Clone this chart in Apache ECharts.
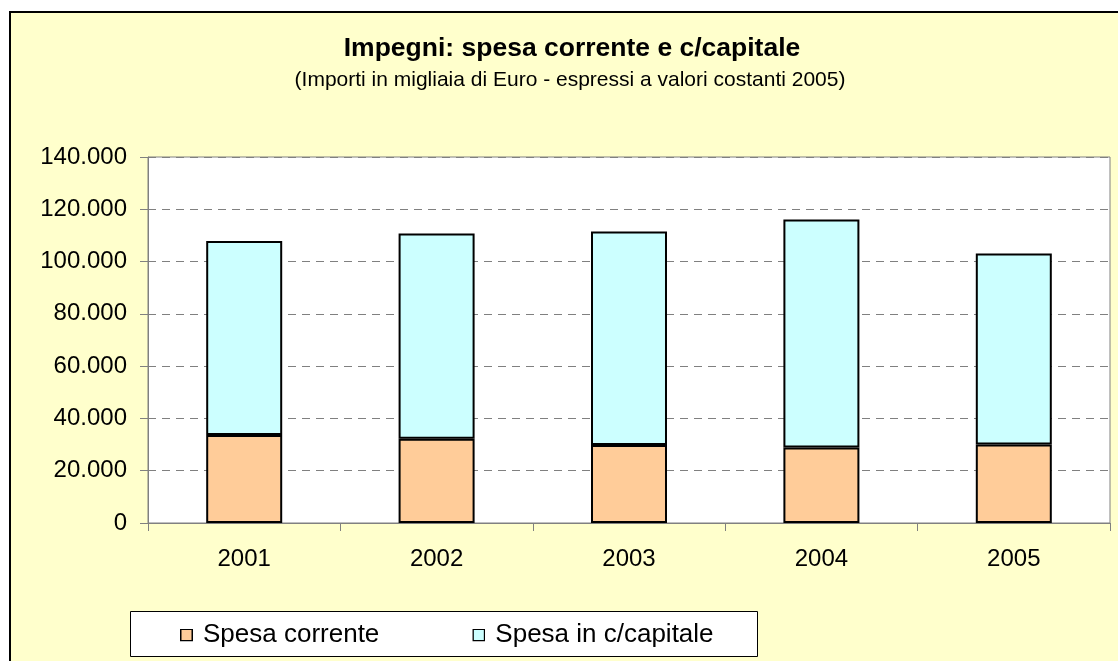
<!DOCTYPE html>
<html>
<head>
<meta charset="utf-8">
<script src="https://cdn.jsdelivr.net/npm/echarts@6/dist/echarts.min.js"></script>
<style>
html,body{margin:0;padding:0;background:#fff;width:1118px;height:661px;overflow:hidden;}
#bg{position:absolute;left:9px;top:11px;width:1200px;height:700px;background:#FFFFCC;border-left:2px solid #000;border-top:2px solid #000;}
#chart{position:absolute;left:0;top:0;width:1118px;height:661px;}
</style>
</head>
<body>
<div id="bg"></div>
<div id="chart"></div>
<script>
const categories = ['2001', '2002', '2003', '2004', '2005'];
const spesaCorrente = [33700, 32200, 29800, 28900, 30000];
const spesaCapitale = [74200, 78500, 81700, 87200, 73100];
const seriesNames = ['Spesa corrente', 'Spesa in c/capitale'];
const seriesColors = ['#FFCC99', '#CCFFFF'];
const titleText = 'Impegni: spesa corrente e c/capitale';
const subtitleText = '(Importi in migliaia di Euro - espressi a valori costanti 2005)';

const FONT = '"Liberation Sans", Arial, sans-serif';
const chart = echarts.init(document.getElementById('chart'), null, {renderer: 'canvas'});

function fmt(v) {
  return String(v).replace(/\B(?=(\d{3})+(?!\d))/g, '.');
}

function boxIcon(color) {
  const svg = "<svg xmlns='http://www.w3.org/2000/svg' width='13' height='13'>" +
    "<rect x='0.75' y='0.75' width='11.5' height='11.5' fill='" + color +
    "' stroke='#000' stroke-width='1.5'/></svg>";
  return 'image://data:image/svg+xml;charset=utf-8,' + encodeURIComponent(svg);
}

const option = {
  backgroundColor: 'transparent',
  animation: false,
  title: [
    {text: titleText, left: 572, top: 35, textAlign: 'center', padding: 0,
     textStyle: {fontFamily: FONT, fontSize: 26.5, fontWeight: 'bold', color: '#000'}},
    {text: subtitleText, left: 570, top: 70, textAlign: 'center', padding: 0,
     textStyle: {fontFamily: FONT, fontSize: 21, fontWeight: 'normal', color: '#000'}}
  ],
  graphic: [
    {type: 'rect', left: 130, top: 611, z: 3,
     shape: {width: 627, height: 45},
     style: {fill: '#fff', stroke: '#000', lineWidth: 1}}
  ],
  legend: {
    left: 180, top: 622, padding: 0, itemGap: 93,
    itemWidth: 13, itemHeight: 13,
    data: [
      {name: seriesNames[0], icon: boxIcon(seriesColors[0])},
      {name: seriesNames[1], icon: boxIcon(seriesColors[1])}
    ],
    textStyle: {fontFamily: FONT, fontSize: 26, color: '#000', padding: [0, 0, 0, 5]}
  },
  grid: {
    left: 148, right: 8, top: 157, bottom: 138,
    show: true, backgroundColor: '#fff', borderColor: '#808080', borderWidth: 1
  },
  xAxis: {
    type: 'category', data: categories, boundaryGap: true,
    axisLine: {lineStyle: {color: '#808080', width: 1}},
    axisTick: {show: true, length: 8, lineStyle: {color: '#808080'}},
    axisLabel: {fontFamily: FONT, fontSize: 24, color: '#000', margin: 24}
  },
  yAxis: {
    type: 'value', min: 0, max: 140000, interval: 20000,
    axisLine: {show: true, lineStyle: {color: '#808080', width: 1}},
    axisTick: {show: true, length: 8, lineStyle: {color: '#808080'}},
    axisLabel: {fontFamily: FONT, fontSize: 24, color: '#000', margin: 21, formatter: fmt},
    splitLine: {show: true, lineStyle: {color: '#808080', type: [8, 6], width: 1}}
  },
  series: [
    {name: seriesNames[0], type: 'bar', stack: 'tot', data: spesaCorrente, barWidth: '39.5%',
     itemStyle: {color: seriesColors[0], borderColor: '#000', borderWidth: 2}},
    {name: seriesNames[1], type: 'bar', stack: 'tot', data: spesaCapitale, barWidth: '39.5%',
     itemStyle: {color: seriesColors[1], borderColor: '#000', borderWidth: 2}}
  ]
};
chart.setOption(option);
</script>
</body>
</html>
